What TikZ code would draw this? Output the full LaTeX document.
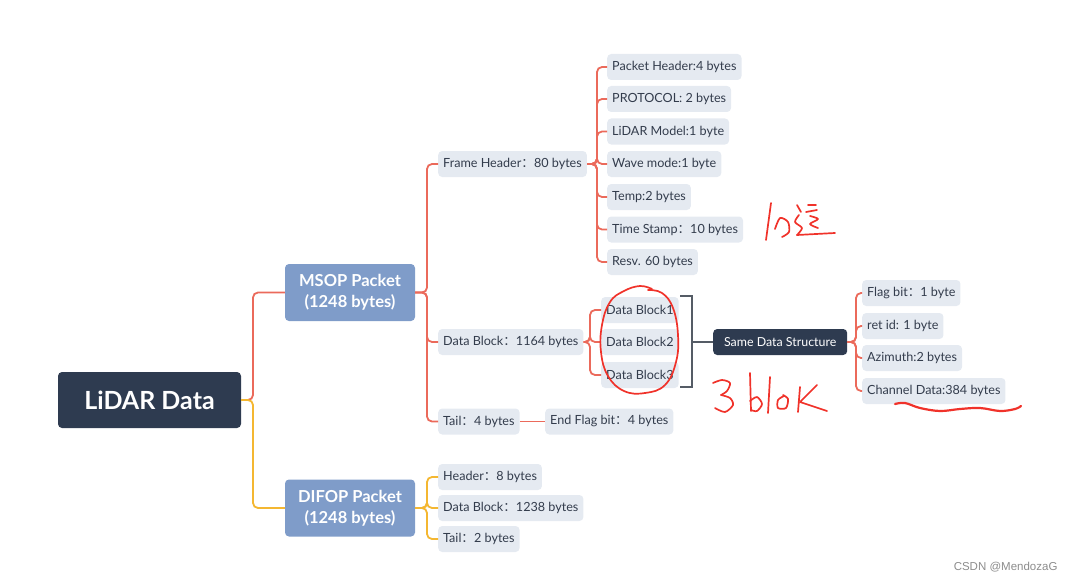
\documentclass[tikz,border=0pt]{standalone}
\usepackage{fontspec}
\setmainfont{Lato}
\newfontfamily\cjk{Noto Sans CJK SC}
\newfontfamily\wmfont{Liberation Sans}
\newcommand\fc{{\cjk ：}}
\definecolor{navy}{HTML}{2E3B50}
\definecolor{steel}{HTML}{7F9CC9}
\definecolor{light}{HTML}{E5EAF1}
\definecolor{txt}{HTML}{333C4C}
\definecolor{redl}{HTML}{EB6A5B}
\definecolor{yell}{HTML}{F4B731}
\definecolor{brk}{HTML}{555C66}
\definecolor{pen}{HTML}{F0322A}
\tikzset{
  leaf/.style={anchor=west,fill=light,rounded corners=4pt,text=txt,font=\fontsize{12.6}{14}\selectfont,minimum height=26pt,inner xsep=5pt,inner ysep=0pt},
  pkt/.style={fill=steel,rounded corners=4pt,text=white,font=\bfseries\fontsize{16.5}{21}\selectfont,minimum width=130pt,minimum height=57pt,align=center},
  rootbox/.style={fill=navy,rounded corners=4pt,text=white,font=\bfseries\fontsize{25}{28}\selectfont,minimum width=183pt,minimum height=56pt},
  darkbox/.style={anchor=west,fill=navy,rounded corners=4pt,text=white,font=\fontsize{12.4}{14}\selectfont,minimum width=134pt,minimum height=26pt},
  rline/.style={draw=redl,line width=1.8pt,rounded corners=5pt},
  yline/.style={draw=yell,line width=1.8pt,rounded corners=5pt},
  penline/.style={draw=pen,line width=1.7pt,line cap=round,line join=round},
}
\begin{document}
\begin{tikzpicture}[x=1pt,y=-1pt]
\useasboundingbox (0,0) rectangle (1081,583);
% root and packets
\node[rootbox] (root) at (149.5,400) {LiDAR Data};
\node[pkt] (msop) at (350,292.5) {MSOP Packet\\(1248 bytes)};
\node[pkt] (difop) at (350,508) {DIFOP Packet\\(1248 bytes)};
% MSOP children
\node[leaf] (fh) at (438,164) {Frame Header\fc 80 bytes};
\node[leaf] (db) at (438,342) {Data Block\fc 1164 bytes};
\node[leaf] (tail) at (438,421.5) {Tail\fc 4 bytes};
\node[leaf] (ef) at (545,421.5) {End Flag bit\fc 4 bytes};
% frame header children
\node[leaf] (ph) at (607,67) {Packet Header:4 bytes};
\node[leaf] (pr) at (607,99) {PROTOCOL: 2 bytes};
\node[leaf] (lm) at (607,131.5) {LiDAR Model:1 byte};
\node[leaf] (wm) at (607,164) {Wave mode:1 byte};
\node[leaf] (tp) at (607,197) {Temp:2 bytes};
\node[leaf] (ts) at (607,229.5) {Time Stamp\fc 10 bytes};
\node[leaf] (rs) at (607,262) {Resv. 60 bytes};
% data blocks
\node[leaf] (b1) at (601,310) {Data Block1};
\node[leaf] (b2) at (601,342) {Data Block2};
\node[leaf] (b3) at (601,375) {Data Block3};
\node[darkbox] (same) at (713,342) {Same Data Structure};
\node[leaf] (fb) at (862,293) {Flag bit\fc 1 byte};
\node[leaf] (ri) at (862,326) {ret id: 1 byte};
\node[leaf] (az) at (862,358) {Azimuth:2 bytes};
\node[leaf] (cd) at (862,391) {Channel Data:384 bytes};
% DIFOP children
\node[leaf] (dh) at (438,477) {Header\fc 8 bytes};
\node[leaf] (dd) at (438,508) {Data Block\fc 1238 bytes};
\node[leaf] (dt) at (438,539) {Tail\fc 2 bytes};
% junction coordinates
\coordinate (j0) at (253,400);
\coordinate (j1) at (427,292.5);
\coordinate (j2) at (597,164);
\coordinate (j3) at (590,342);
\coordinate (j4) at (856,342);
\coordinate (j5) at (427,508);
% connectors
\draw[rline] (root.east) -- (j0) |- (msop.west);
\draw[yline] (root.east) -- (j0) |- (difop.west);
\foreach \c in {fh,db,tail} \draw[rline] (msop.east) -- (j1) |- (\c.west);
\draw[rline] (tail.east) -- (ef.west);
\foreach \c in {ph,pr,lm,wm,tp,ts,rs} \draw[rline] (fh.east) -- (j2) |- (\c.west);
\foreach \c in {b1,b2,b3} \draw[rline] (db.east) -- (j3) |- (\c.west);
\foreach \c in {fb,ri,az,cd} \draw[rline] (same.east) -- (j4) |- (\c.west);
\foreach \c in {dh,dd,dt} \draw[yline] (difop.east) -- (j5) |- (\c.west);
% bracket
\coordinate (bt) at (680,296);
\coordinate (bb) at (680,387);
\draw[brk,line width=1.6pt] (bt) -- ++(12,0) -- ++(0,91) -- (bb);
\draw[brk,line width=1.6pt] (692,342) -- (same.west);
% handwritten annotations: circle round the data blocks
\draw[penline] plot[smooth,tension=0.7] coordinates {(648,290) (662,293) (673,308) (678,335) (676,362) (665,385) (645,393) (624,391) (608,376) (601,352) (602,325) (610,302) (624,291) (640,286) (652,289)};
% wavy underline
\draw[penline,line width=2.2pt] plot[smooth,tension=0.6] coordinates {(895,404) (905,403) (920,408) (940,411) (960,409) (980,408) (1000,411) (1015,409) (1021,406)};
% scribble near time stamp
\draw[penline] (771,203) -- (766,240);
\draw[penline] plot[smooth] coordinates {(775,229) (780,218) (788,222) (789,232) (782,237)};
\draw[penline] (797,205) -- (801,212);
\draw[penline] plot[smooth] coordinates {(799,215) (795,222) (802,228) (797,235)};
\draw[penline] (797,235) -- (835,233);
\draw[penline] (808,205) -- (816,205);
\draw[penline] (806,212) -- (817,210);
\draw[penline] plot[smooth] coordinates {(810,216) (818,219) (810,224) (818,228)};
% "3 blk"
\draw[penline] plot[smooth] coordinates {(713,383) (722,380) (730,383) (727,391) (721,395)};
\draw[penline] plot[smooth] coordinates {(721,395) (730,398) (733,405) (725,412) (715,408)};
\draw[penline] (750,373) -- (751,411);
\draw[penline] plot[smooth] coordinates {(750,401) (757,397) (762,404) (757,411) (751,410)};
\draw[penline] (770,377) -- (768,413);
\draw[penline] plot[smooth] coordinates {(784,396) (778,400) (778,408) (786,408) (788,399) (783,395)};
\draw[penline] (800,387) -- (798,412);
\draw[penline] (817,385) -- (800,402) -- (827,411);
\node[text=black!45,font=\wmfont\fontsize{11.5}{13}\selectfont,anchor=east] (wm0) at (1061,567) {CSDN @MendozaG};
\end{tikzpicture}
\end{document}
